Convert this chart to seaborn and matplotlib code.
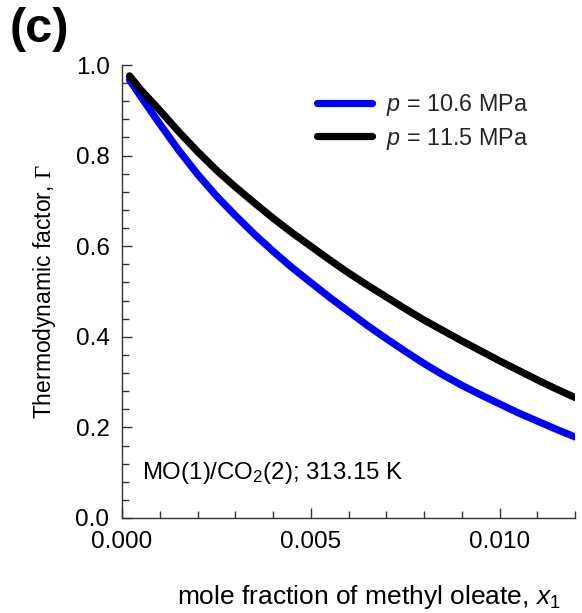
import numpy as np
import pandas as pd
import matplotlib
matplotlib.use("Agg")
import matplotlib.pyplot as plt
from matplotlib.ticker import MultipleLocator
import seaborn as sns

# ---- data ----
x1 = [0.0002, 0.0005, 0.0010, 0.0015, 0.0020, 0.0025, 0.0030, 0.0035, 0.0040,
      0.0045, 0.0050, 0.0055, 0.0060, 0.0065, 0.0070, 0.0075, 0.0080, 0.0085,
      0.0090, 0.0095, 0.0100, 0.0105, 0.0110, 0.0115, 0.0120]
gamma_106 = [0.967, 0.930, 0.870, 0.812, 0.759, 0.711, 0.668, 0.627, 0.589,
             0.553, 0.520, 0.487, 0.456, 0.425, 0.396, 0.368, 0.341, 0.316,
             0.293, 0.272, 0.252, 0.232, 0.214, 0.196, 0.179]
gamma_115 = [0.976, 0.945, 0.900, 0.853, 0.809, 0.768, 0.731, 0.696, 0.662,
             0.630, 0.600, 0.570, 0.541, 0.514, 0.488, 0.462, 0.437, 0.414,
             0.391, 0.369, 0.347, 0.326, 0.305, 0.285, 0.266]
series_labels = ["$p$ = 10.6 MPa", "$p$ = 11.5 MPa"]
series_colors = ["#0000ff", "#000000"]
x_ticks = [0.000, 0.005, 0.010]
y_ticks = [0.0, 0.2, 0.4, 0.6, 0.8, 1.0]

df = pd.DataFrame({
    "x": x1 + x1,
    "gamma": gamma_106 + gamma_115,
    "series": [series_labels[0]] * len(x1) + [series_labels[1]] * len(x1),
})

sns.set_theme(style="ticks")
plt.rcParams["font.family"] = ["Liberation Sans", "DejaVu Sans"]
plt.rcParams["mathtext.fontset"] = "custom"
plt.rcParams["mathtext.rm"] = "Liberation Sans"
plt.rcParams["mathtext.it"] = "Liberation Sans:italic"
plt.rcParams["mathtext.sf"] = "Liberation Serif"

fig = plt.figure(figsize=(5.82, 6.13), dpi=100)
ax = fig.add_axes([122 / 582, 1 - 518 / 613, (575 - 122) / 582, (518 - 65) / 613])

sns.lineplot(data=df, x="x", y="gamma", hue="series", hue_order=series_labels,
             palette=series_colors, linewidth=5.2, ax=ax, legend=True, sort=False)
for ln in ax.lines:
    ln.set_solid_capstyle("round")
    ln.set_solid_joinstyle("round")

ax.set_xlim(0, 0.012)
ax.set_ylim(0, 1.0)
ax.set_xticks(x_ticks)
ax.set_xticklabels([f"{v:.3f}" for v in x_ticks])
ax.set_yticks(y_ticks)
ax.set_yticklabels([f"{v:.1f}" for v in y_ticks])
ax.xaxis.set_minor_locator(MultipleLocator(0.001))
ax.yaxis.set_minor_locator(MultipleLocator(0.04))

for s in ["top", "right"]:
    ax.spines[s].set_visible(False)
for s in ["left", "bottom"]:
    ax.spines[s].set_color("#333333")
    ax.spines[s].set_linewidth(1.0)

ax.tick_params(which="major", direction="in", length=7, width=1.0, color="#333333",
               labelsize=17.5, labelcolor="black")
ax.tick_params(which="minor", direction="in", length=5, width=1.0, color="#333333")
ax.tick_params(axis="x", which="major", pad=9)
ax.tick_params(axis="y", which="major", pad=9)

ax.set_xlabel("mole fraction of methyl oleate, $\\mathit{x}_1$", fontsize=19, color="black")
ax.set_ylabel("Thermodynamic factor, $\\mathsf{\\Gamma}$", fontsize=16.5, color="black")
ax.xaxis.set_label_coords(0.545, -0.143)
ax.yaxis.set_label_coords(-0.142, 0.5)

ax.text(0.044, 0.1, "MO(1)/CO$_2$(2); 313.15 K", transform=ax.transAxes,
        fontsize=17.3, ha="left", va="center", color="black")

leg = ax.legend(loc="upper left", bbox_to_anchor=(0.43, 0.94), frameon=False,
                fontsize=16.8, handlelength=2.35, handletextpad=0.6, labelspacing=0.32,
                borderaxespad=0, borderpad=0)
for h in leg.legend_handles:
    h.set_linewidth(5.2)
    h.set_solid_capstyle("round")

fig.text(10 / 582, 1 - 29 / 613, "(c)", fontsize=35, fontweight="bold",
         ha="left", va="center", color="black")

fig.savefig("out.png", dpi=100)
